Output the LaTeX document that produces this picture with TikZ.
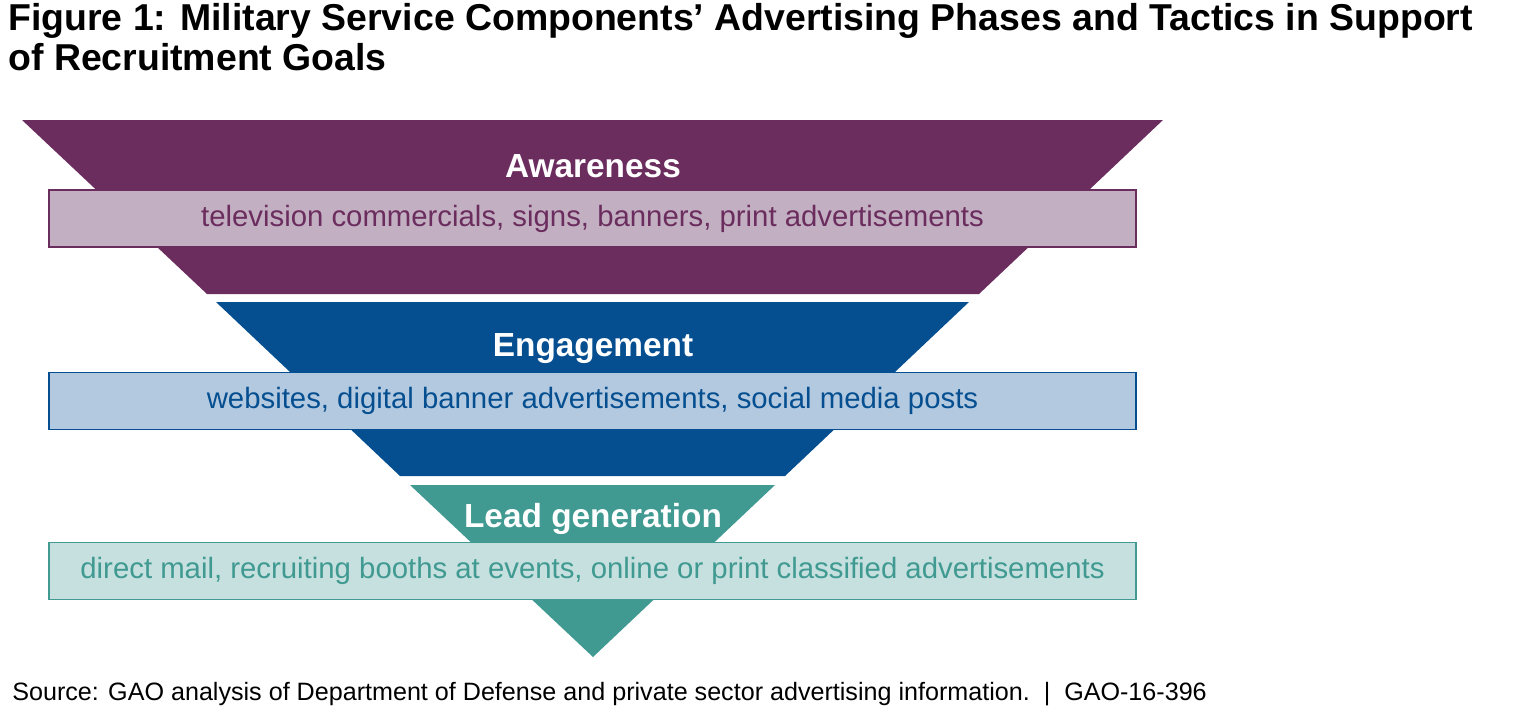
\documentclass[tikz,border=0pt]{standalone}
\usepackage{fontspec}
\setmainfont{Liberation Sans}
\definecolor{awarec}{HTML}{6B2C5E}
\definecolor{engc}{HTML}{054F91}
\definecolor{leadc}{HTML}{409A92}
\definecolor{awarel}{HTML}{C2AFC2}
\definecolor{engl}{HTML}{B3C9DF}
\definecolor{leadl}{HTML}{C5E0DE}
\tikzset{
  phase/.style={font=\fontsize{19}{22}\selectfont\bfseries, text=white},
  tactic/.style={draw=#1, line width=0.8pt, minimum width=21.74cm, minimum height=1.14cm,
    font=\fontsize{16.7}{19}\selectfont, text=#1},
}
\begin{document}
\begin{tikzpicture}[x=0.02cm,y=-0.02cm]
\useasboundingbox (0,0) rectangle (1515,714);
\node[anchor=north west, align=left, inner sep=0pt, font=\fontsize{21.3}{22.6}\selectfont\bfseries] (title) at (8,3)
  {Figure 1: Military Service Components’ Advertising Phases and Tactics in Support\\of Recruitment Goals};
% funnel
\fill[awarec] (22,120) -- (1163,120) -- (979,294) -- (207,294) -- cycle;
\fill[engc] (216,302) -- (969,302) -- (785,476) -- (400,476) -- cycle;
\fill[leadc] (410,485) -- (775,485) -- (593,657) -- cycle;
\node[phase] (aware) at (593,166) {Awareness};
\node[phase] (eng) at (593,349) {Engagement};
\node[phase] (lead) at (593,519) {Lead generation};
\node[tactic=awarec, fill=awarel] (awarebox) at (592.5,218.5) {television commercials, signs, banners, print advertisements};
\node[tactic=engc, fill=engl] (engbox) at (592.5,401) {websites, digital banner advertisements, social media posts};
\node[tactic=leadc, fill=leadl] (leadbox) at (592.5,571) {direct mail, recruiting booths at events, online or print classified advertisements};
\node[anchor=west, inner sep=0pt, font=\fontsize{14.3}{16}\selectfont] (source) at (12,694)
  {Source: GAO analysis of Department of Defense and private sector advertising information.\ \ |\ \ GAO-16-396};
\end{tikzpicture}
\end{document}
